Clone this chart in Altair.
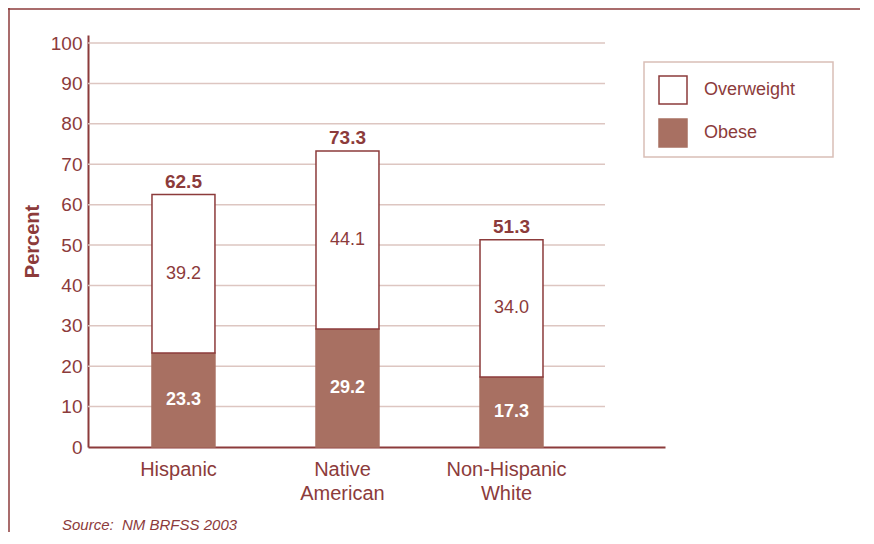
import altair as alt
import pandas as pd

groups = ["Hispanic", "Native American", "Non-Hispanic White"]
obese = [23.3, 29.2, 17.3]
overweight = [39.2, 44.1, 34.0]
totals = [62.5, 73.3, 51.3]
series = ["Overweight", "Obese"]
grid_ticks = [10, 20, 30, 40, 50, 60, 70, 80, 90, 100]
source_note = "Source:\u00a0 NM BRFSS 2003"

BROWN = "#8C3B3B"
BAR = "#A87062"
GRID = "#DDC6C1"
FONT = "Liberation Sans"

rows = []
for g, ob, ov, tot in zip(groups, obese, overweight, totals):
    rows.append({"group": g, "series": "Obese", "y0": 0.0, "y1": ob, "mid": ob / 2, "val": ob})
    rows.append({"group": g, "series": "Overweight", "y0": ob, "y1": ob + ov, "mid": ob + ov / 2, "val": ov})
df = pd.DataFrame(rows)
tot_df = pd.DataFrame({"group": groups, "total": totals})
grid_df = pd.DataFrame({"v": grid_ticks})

yscale = alt.Scale(domain=[0, 102], nice=False, zero=True)
xscale = alt.Scale(domain=groups, paddingInner=0.616, paddingOuter=0.567, align=0.344)

x_axis = alt.Axis(
    title=None, labelAngle=0, ticks=False, domainColor=BROWN, domainWidth=2,
    labelColor=BROWN, labelFontSize=20, labelFont=FONT, labelPadding=12,
    labelLineHeight=24, labelExpr="split(datum.label, ' ')", labelOffset=-5,
)
y_axis = alt.Axis(
    values=list(range(0, 101, 10)), ticks=False, grid=False, domainColor=BROWN,
    domainWidth=2, labelColor=BROWN, labelFontSize=19, labelFont=FONT, labelPadding=6,
    title="Percent", titleFontSize=20, titleFontWeight="bold", titleColor=BROWN,
    titleFont=FONT, titlePadding=8,
)

grid = alt.Chart(grid_df).mark_rule(color=GRID, strokeWidth=1.5).encode(
    y=alt.Y("v:Q", scale=yscale, axis=y_axis),
    x=alt.value(0), x2=alt.value(517),
)

legend_box = alt.Chart(pd.DataFrame({"k": [0]})).mark_rect(
    fill="white", stroke="#D9BEB6", strokeWidth=1.5
).encode(x=alt.value(556), x2=alt.value(745), y=alt.value(27), y2=alt.value(122))

leg = alt.Legend(
    title=None, orient="none", legendX=570, legendY=40, symbolType="square",
    symbolSize=784, symbolStrokeWidth=1.5, labelFontSize=18, labelFont=FONT,
    labelColor=BROWN, labelOffset=16, rowPadding=9, padding=0,
)

bars = alt.Chart(df).mark_bar(strokeWidth=1.5).encode(
    x=alt.X("group:N", scale=xscale, axis=x_axis, sort=groups),
    y=alt.Y("y1:Q", scale=yscale, axis=y_axis),
    y2="y0:Q",
    fill=alt.Fill("series:N", scale=alt.Scale(domain=series, range=["white", BAR]), legend=leg),
    stroke=alt.Stroke("series:N", scale=alt.Scale(domain=series, range=[BROWN, BAR]), legend=leg),
)

ov_text = alt.Chart(df).transform_filter(alt.datum.series == "Overweight").mark_text(
    fontSize=18, font=FONT, color=BROWN, baseline="middle"
).encode(
    x=alt.X("group:N", scale=xscale, sort=groups, axis=x_axis),
    y=alt.Y("mid:Q", scale=yscale, axis=y_axis),
    text=alt.Text("val:Q", format=".1f"),
)

ob_text = alt.Chart(df).transform_filter(alt.datum.series == "Obese").mark_text(
    fontSize=18, font=FONT, color="white", fontWeight="bold", baseline="middle"
).encode(
    x=alt.X("group:N", scale=xscale, sort=groups, axis=x_axis),
    y=alt.Y("mid:Q", scale=yscale, axis=y_axis),
    text=alt.Text("val:Q", format=".1f"),
)

tot_text = alt.Chart(tot_df).mark_text(
    fontSize=19, font=FONT, color=BROWN, fontWeight="bold", baseline="middle", dy=-13
).encode(
    x=alt.X("group:N", scale=xscale, sort=groups, axis=x_axis),
    y=alt.Y("total:Q", scale=yscale, axis=y_axis),
    text=alt.Text("total:Q", format=".1f"),
)

src = alt.Chart(pd.DataFrame({"t": [source_note]})).mark_text(
    fontSize=15, font=FONT, fontStyle="italic", color=BROWN, align="left", baseline="middle"
).encode(x=alt.value(-26), y=alt.value(490), text="t:N")

frame_left = alt.Chart(pd.DataFrame({"k": [0]})).mark_rule(color=BROWN, strokeWidth=1.5).encode(
    x=alt.value(-79), y=alt.value(-27), y2=alt.value(497)
)
frame_top = alt.Chart(pd.DataFrame({"k": [0]})).mark_rule(color=BROWN, strokeWidth=1.5).encode(
    y=alt.value(-26), x=alt.value(-80), x2=alt.value(772)
)

chart = alt.layer(
    grid, legend_box, bars, ov_text, ob_text, tot_text, src, frame_left, frame_top
).properties(
    width=577, height=412,
    autosize=alt.AutoSizeParams(type="none"),
    padding={"left": 80, "top": 27, "right": 195, "bottom": 85},
).configure(font=FONT).configure_view(stroke=None)

chart.save("out.html", embed_options={"renderer": "svg", "actions": False})
